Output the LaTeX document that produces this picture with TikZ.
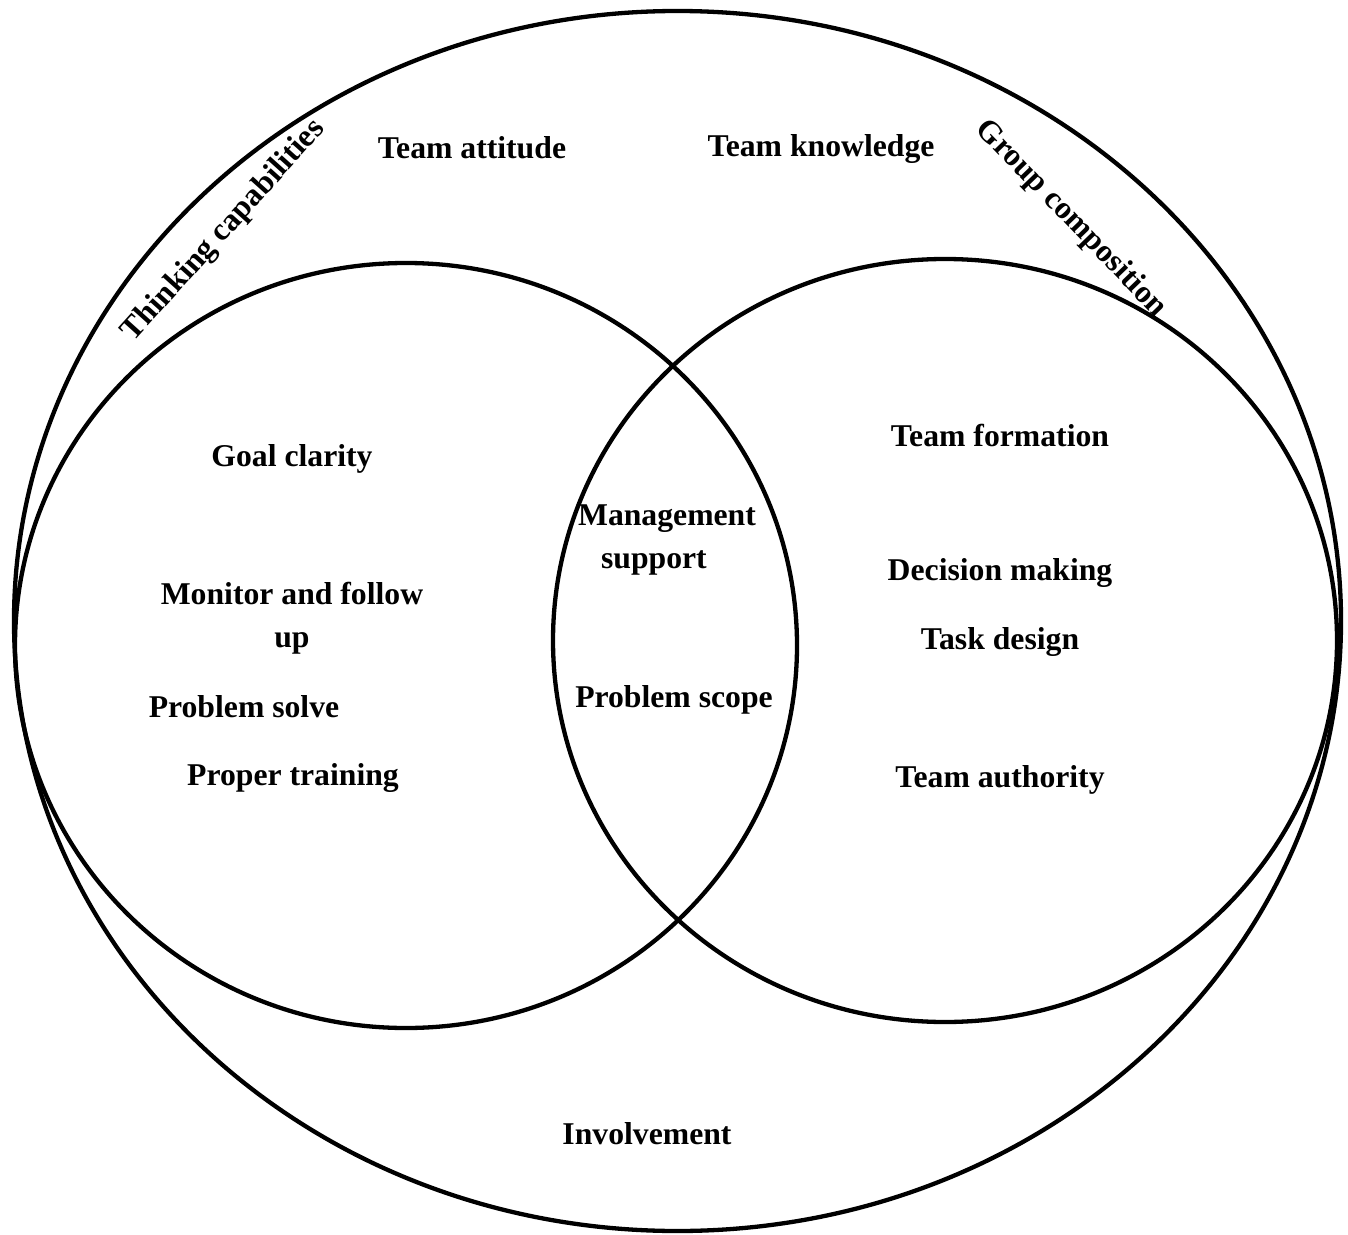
\documentclass[tikz,border=0pt]{standalone}
\usepackage{fontspec}
\setmainfont{Liberation Serif}
\begin{document}
\begin{tikzpicture}[x=0.5pt,y=-0.5pt,
  ring/.style={line width=2.15pt},
  lbl/.style={font=\bfseries\fontsize{15.85pt}{21.5pt}\selectfont, inner sep=0pt, align=center}]
\useasboundingbox (0,0) rectangle (1348,1235);
% outer set and the two overlapping sets
\draw[ring] (677.5,621) ellipse [x radius=663.5, y radius=610];
\draw[ring] (406,645.5) ellipse [x radius=391, y radius=382.5];
\draw[ring] (945,640.5) ellipse [x radius=392, y radius=381.5];
% outer labels
\node[lbl, rotate=48] (think) at (224,231) {Thinking capabilities};
\node[lbl, rotate=-46] (group) at (1071,219) {Group composition};
\node[lbl] (attitude) at (472,148) {Team attitude};
\node[lbl] (knowledge) at (821,149) {Team knowledge};
\node[lbl] (involve) at (647,1134) {Involvement};
% left set
\node[lbl] (goal) at (292,459) {Goal clarity};
\node[lbl] (monitor) at (292,618) {Monitor and follow\\up};
\node[lbl] (solve) at (244,707) {Problem solve};
\node[lbl] (training) at (293,778) {Proper training};
% overlap
\node[lbl, align=left] (mgmt) at (667,540) {Management\\\hspace*{11.5pt}support};
\node[lbl] (scope) at (674,700) {Problem scope};
% right set
\node[lbl] (formation) at (1000,435) {Team formation};
\node[lbl] (decision) at (1000,573) {Decision making};
\node[lbl] (task) at (1000,642) {Task design};
\node[lbl] (authority) at (1000,780) {Team authority};
\end{tikzpicture}
\end{document}
